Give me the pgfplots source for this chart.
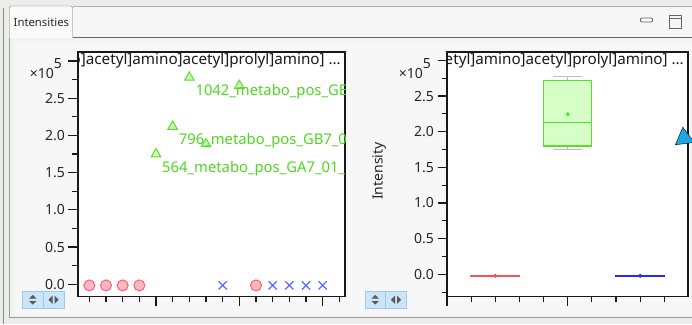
\documentclass[border=0pt]{standalone}
\usepackage{fontspec}
\setmainfont{Noto Sans}
\usepackage{pgfplots}
\pgfplotsset{compat=1.18}
\usepgfplotslibrary{statistics}

\definecolor{outerbg}{RGB}{234,237,234}
\definecolor{contentbg}{RGB}{243,243,243}
\definecolor{canvasbg}{RGB}{247,247,247}
\definecolor{tabbarbg}{RGB}{245,246,245}
\definecolor{tabbg}{RGB}{250,250,250}
\definecolor{grn}{RGB}{90,222,45}
\definecolor{grntext}{RGB}{80,215,35}
\definecolor{grnfill}{RGB}{205,248,190}
\definecolor{boxfill}{RGB}{214,255,200}
\definecolor{redmk}{RGB}{255,95,112}
\definecolor{redfill}{RGB}{255,184,194}
\definecolor{bluemk}{RGB}{92,104,255}
\definecolor{redln}{RGB}{242,85,85}
\definecolor{blueln}{RGB}{40,40,250}
\definecolor{cyanmk}{RGB}{30,166,224}
\definecolor{btnfill}{RGB}{204,228,247}
\definecolor{btnedge}{RGB}{153,201,239}
\definecolor{whisk}{RGB}{190,190,190}

\newcommand{\fs}[1]{\fontsize{#1}{#1}\selectfont}

\pgfplotsset{
  guiaxis/.style={
    scale only axis,
    axis background/.style={fill=white},
    axis line style={draw=black!90, line width=1.3pt},
    tick pos=left,
    tick align=outside,
    major tick length=9.5pt,
    minor tick length=5.5pt,
    major tick style={draw=black!90, line width=1.2pt},
    minor tick style={draw=black!90, line width=1.2pt},
    xticklabels={},
    ytick={0,0.5,1,1.5,2,2.5,3},
    yticklabels={0.0,0.5,1.0,1.5,2.0,2.5,{}},
    minor ytick={-0.25,0.25,0.75,1.25,1.75,2.25,2.75},
    yticklabel style={font=\fs{14}, text=black!85},
    ylabel style={font=\fs{14}, text=black!85},
  },
}

\begin{document}
\begin{tikzpicture}
\path[use as bounding box] (0pt,0pt) rectangle (692pt,324pt);
\clip (0pt,0pt) rectangle (692pt,324pt);
% ---------- GUI frame ----------
\begin{scope}[x=1pt,y=1pt]
\fill[outerbg] (0,0) rectangle (692,324);
\draw[black!45, line width=0.8pt] (3.5,0) -- (3.5,316);
\fill[contentbg] (9,6) rectangle (692,286);
\draw[black!40] (9.5,6) -- (9.5,286);
\draw[black!40] (9,6.5) -- (692,6.5);
\fill[canvasbg] (14,10) rectangle (692,282);
\fill[tabbarbg] (72.5,286) rectangle (692,317.5);
\draw[black!30] (72.5,317.5) -- (692,317.5);
\draw[black!60] (72.5,286.5) -- (692,286.5);
\draw[black!55, fill=tabbg, rounded corners=2pt] (9.5,286) -- (9.5,318) -- (72.5,318) -- (72.5,286);
\node[anchor=west, font=\fs{11.3}, text=black!85, inner sep=0pt] at (13.5,302) {Intensities};
\draw[black!60, rounded corners=1pt, line width=0.8pt] (640.5,302) rectangle (652.5,306);
\draw[black!60, line width=0.8pt] (669.5,296) rectangle (681.5,309);
\draw[black!60, line width=0.8pt] (669.5,306) -- (681.5,306);
\end{scope}

% ---------- left plot ----------
\begin{axis}[guiaxis, at={(78pt,27.5pt)}, anchor=south west, width=267pt, height=244.5pt,
  xmin=0.32, xmax=16.34, ymin=-0.164, ymax=3.122,
  xtick={5,10,15}, minor xtick={1,2,3,4,6,7,8,9,11,12,13,14,16},
  clip marker paths=true]
\addplot[only marks, mark=*, mark size=5.5pt, mark options={draw=redmk, fill=redfill, line width=1pt}]
  coordinates {(1,-0.015) (2,-0.015) (3,-0.015) (4,-0.015) (11,-0.015)};
\addplot[only marks, mark=x, mark size=5.8pt, mark options={draw=bluemk, line width=1.2pt}]
  coordinates {(9,-0.015) (12,-0.015) (13,-0.015) (14,-0.015) (15,-0.015)};
\addplot[only marks, mark=triangle*, mark size=5.5pt, mark options={draw=grn, fill=grnfill, line width=1pt}]
  coordinates {(5,1.75) (6,2.12) (7,2.78) (8,1.886) (10,2.67)};
\addplot[only marks, mark=none, nodes near coords, point meta=explicit symbolic,
  every node near coord/.style={anchor=base west, xshift=6pt, yshift=-18pt, inner sep=0pt, font=\fs{14.8}, text=grntext}]
  coordinates {(5,1.75)[564\_metabo\_pos\_GA7\_01\_564] (6,2.12)[796\_metabo\_pos\_GB7\_01\_796] (7,2.78)[1042\_metabo\_pos\_GE7\_01\_1042]};
\node[anchor=base east, inner sep=0pt, font=\fs{15.2}, text=black!90, xshift=-4pt, yshift=-12.5pt]
  at (rel axis cs:1,1) {oxo]acetyl]amino]acetyl]prolyl]amino] ...};
\end{axis}

% ---------- right plot ----------
\begin{axis}[guiaxis, at={(447pt,27.5pt)}, anchor=south west, width=241pt, height=244.5pt,
  xmin=0.33333, xmax=3.66, ymin=-0.311, ymax=3.118,
  xtick={0.33333,2}, minor xtick={0.66667,1,1.33333,1.66667,2.33333,2.66667,3,3.33333},
  ylabel={Intensity}, ylabel style={at={(axis description cs:-0.282,0.513)}, anchor=center},
  axis on top]
\addplot[draw=grn, fill=boxfill, line width=1.1pt,
  boxplot prepared={draw direction=y, draw position=2, lower whisker=1.755, lower quartile=1.80,
    median=2.125, upper quartile=2.72, upper whisker=2.78,
    box extend=0.66, whisker extend=0.4,
    every whisker/.style={draw=whisk, line width=1pt}}] coordinates {};
\addplot[only marks, mark=*, mark size=1.8pt, draw=grn, fill=grn] coordinates {(2,2.245)};
\addplot[draw=redln, line width=1.5pt, mark=none] coordinates {(0.655,-0.02) (1.345,-0.02)};
\addplot[only marks, mark=*, mark size=1.8pt, draw=redln, fill=redln] coordinates {(1,-0.02)};
\addplot[draw=blueln, line width=1.5pt, mark=none] coordinates {(2.655,-0.02) (3.345,-0.02)};
\addplot[only marks, mark=*, mark size=1.8pt, draw=blueln, fill=blueln] coordinates {(3,-0.02)};
\addplot[only marks, mark=triangle*, mark size=11pt, mark options={rotate=127, fill=cyanmk, draw=none}]
  coordinates {(3.607,1.91)};
\node[anchor=base east, inner sep=0pt, font=\fs{15.2}, text=black!90, xshift=-4pt, yshift=-12.5pt]
  at (rel axis cs:1,1) {oxo]acetyl]amino]acetyl]prolyl]amino] ...};
\end{axis}

% ---------- x10^5 labels and buttons ----------
\begin{scope}[x=1pt,y=1pt]
\node[anchor=base east, inner sep=0pt, font=\fs{14}, text=black!85] at (62,245.7) {×10\raisebox{10pt}{5}};
\node[anchor=base east, inner sep=0pt, font=\fs{14}, text=black!85] at (431,245) {×10\raisebox{10pt}{5}};
\foreach \bx in {22.5,365} {
  \draw[btnedge, fill=btnfill, line width=0.8pt] (\bx,16) rectangle ++(41.5,16.5);
  \draw[btnedge, line width=0.8pt] (\bx+20.75,16) -- ++(0,16.5);
  \fill[black!65] (\bx+6.5,25.5) -- (\bx+14,25.5) -- (\bx+10.25,29) -- cycle;
  \fill[black!65] (\bx+6.5,23) -- (\bx+14,23) -- (\bx+10.25,19.5) -- cycle;
  \fill[black!65] (\bx+30,20) -- (\bx+30,28.5) -- (\bx+26,24.25) -- cycle;
  \fill[black!65] (\bx+32,20) -- (\bx+32,28.5) -- (\bx+36,24.25) -- cycle;
}
\end{scope}
\end{tikzpicture}
\end{document}
